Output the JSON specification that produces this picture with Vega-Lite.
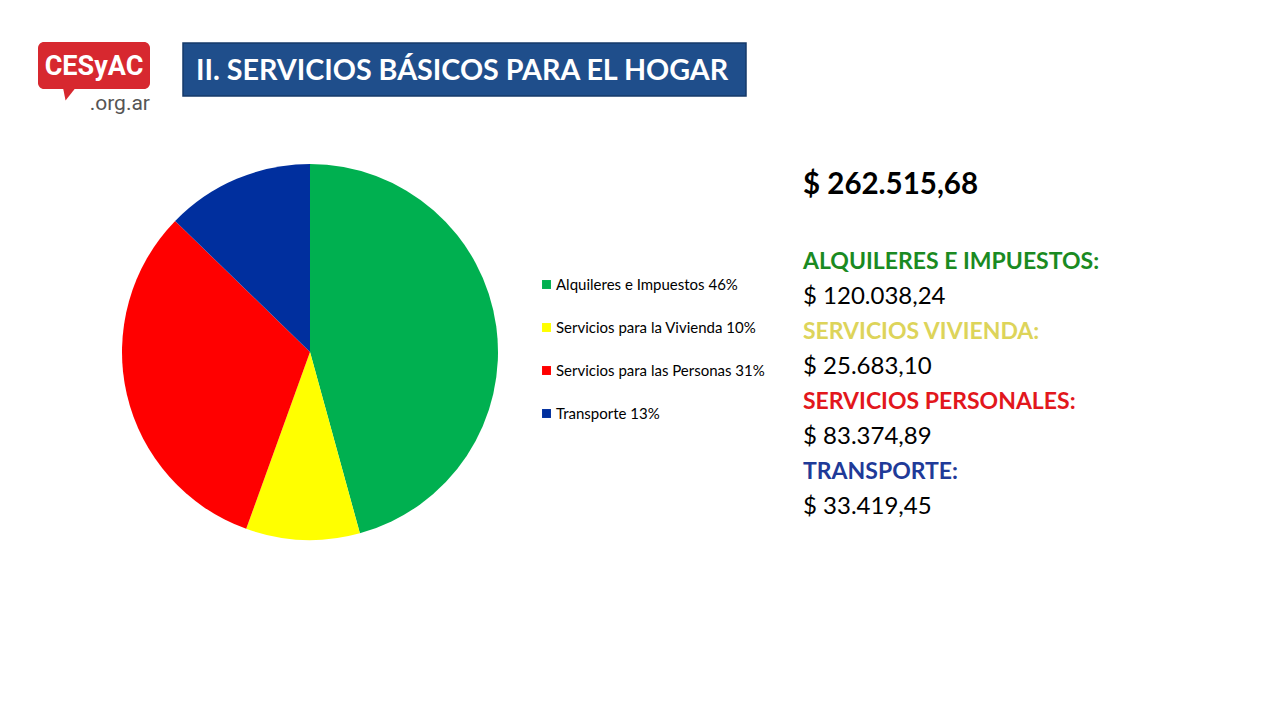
{
  "$schema": "https://vega.github.io/schema/vega-lite/v6.json",
  "width": 1280,
  "height": 721,
  "autosize": {"type": "fit", "contains": "padding"},
  "padding": 0,
  "background": "white",
  "config": {
    "view": {"stroke": null},
    "font": "Lato",
    "locale": {"number": {"decimal": ",", "thousands": ".", "grouping": [3], "currency": ["$ ", ""]}}
  },
  "data": {
    "values": [
      {"ord": 1, "legend": "Alquileres e Impuestos 46%", "heading": "ALQUILERES E IMPUESTOS:", "amount": 120038.24},
      {"ord": 2, "legend": "Servicios para la Vivienda 10%", "heading": "SERVICIOS VIVIENDA:", "amount": 25683.10},
      {"ord": 3, "legend": "Servicios para las Personas 31%", "heading": "SERVICIOS PERSONALES:", "amount": 83374.89},
      {"ord": 4, "legend": "Transporte 13%", "heading": "TRANSPORTE:", "amount": 33419.45}
    ]
  },
  "layer": [
    {
      "data": {"values": [{"t": "CESyAC"}]},
      "mark": {"type": "rect", "x": 38, "x2": 150, "y": 42, "y2": 89, "cornerRadius": 6, "color": "#D7282F"},
      "encoding": {}
    },
    {
      "data": {"values": [{"t": "tail"}]},
      "mark": {"type": "point", "x": 70, "y": 93, "shape": "M-1,-1 L1,-1 L-0.6,1 Z", "size": 220, "filled": true, "color": "#D7282F", "opacity": 1},
      "encoding": {}
    },
    {
      "data": {"values": [{"t": "CESyAC"}]},
      "mark": {"type": "text", "x": 94, "y": 67, "align": "center", "baseline": "middle", "font": "Roboto", "fontWeight": "bold", "fontSize": 27, "color": "white", "dx": 0},
      "encoding": {"text": {"field": "t"}}
    },
    {
      "data": {"values": [{"t": ".org.ar"}]},
      "mark": {"type": "text", "x": 150, "y": 104, "align": "right", "baseline": "middle", "font": "Roboto", "fontSize": 21, "color": "#555555"},
      "encoding": {"text": {"field": "t"}}
    },
    {
      "data": {"values": [{"t": "box"}]},
      "mark": {"type": "rect", "x": 183, "x2": 746, "y": 43, "y2": 96, "color": "#1F4E8B", "stroke": "#163A6A", "strokeWidth": 1.5},
      "encoding": {}
    },
    {
      "data": {"values": [{"t": "II. SERVICIOS BÁSICOS PARA EL HOGAR"}]},
      "mark": {"type": "text", "x": 196, "y": 71, "align": "left", "baseline": "middle", "font": "Lato", "fontWeight": "bold", "fontSize": 28.7, "color": "white"},
      "encoding": {"text": {"field": "t"}}
    },
    {
      "mark": {"type": "arc", "x": 310, "y": 352, "outerRadius": 188},
      "encoding": {
        "theta": {"field": "amount", "type": "quantitative", "stack": true},
        "order": {"field": "ord", "type": "quantitative"},
        "color": {
          "field": "legend",
          "type": "nominal",
          "sort": null,
          "scale": {
            "domain": ["Alquileres e Impuestos 46%", "Servicios para la Vivienda 10%", "Servicios para las Personas 31%", "Transporte 13%"],
            "range": ["#00B050", "#FFFF00", "#FF0000", "#002F9E"]
          },
          "legend": {
            "title": null,
            "orient": "none",
            "legendX": 539,
            "legendY": 277,
            "symbolType": "square",
            "symbolSize": 80,
            "symbolStrokeWidth": 0,
            "symbolOpacity": 1,
            "labelFont": "Lato",
            "labelFontSize": 15,
            "labelColor": "#000000",
            "labelLimit": 400,
            "labelOffset": 2,
            "rowPadding": 27
          }
        }
      }
    },
    {
      "transform": [{"aggregate": [{"op": "sum", "field": "amount", "as": "total"}]}],
      "mark": {"type": "text", "x": 803, "y": 185, "align": "left", "baseline": "middle", "font": "Lato", "fontWeight": "bold", "fontSize": 29.5, "color": "#000000"},
      "encoding": {"text": {"field": "total", "type": "quantitative", "format": "$,.2f"}}
    },
    {
      "mark": {"type": "text", "x": 803, "align": "left", "baseline": "middle", "font": "Lato", "fontWeight": "bold", "fontSize": 23},
      "encoding": {
        "y": {"field": "heading", "type": "nominal", "sort": null, "axis": null, "scale": {"type": "point", "range": [262, 472], "padding": 0}},
        "text": {"field": "heading"},
        "color": {
          "field": "heading",
          "type": "nominal",
          "sort": null,
          "legend": null,
          "scale": {
            "domain": ["ALQUILERES E IMPUESTOS:", "SERVICIOS VIVIENDA:", "SERVICIOS PERSONALES:", "TRANSPORTE:"],
            "range": ["#1A8A22", "#DDD45A", "#E2171C", "#1F3A98"]
          }
        }
      }
    },
    {
      "mark": {"type": "text", "x": 803, "dy": 35, "align": "left", "baseline": "middle", "font": "Lato", "fontSize": 24, "color": "#000000"},
      "encoding": {
        "y": {"field": "heading", "type": "nominal", "sort": null, "axis": null, "scale": {"type": "point", "range": [262, 472], "padding": 0}},
        "text": {"field": "amount", "type": "quantitative", "format": "$,.2f"}
      }
    }
  ],
  "resolve": {"scale": {"color": "independent"}}
}
